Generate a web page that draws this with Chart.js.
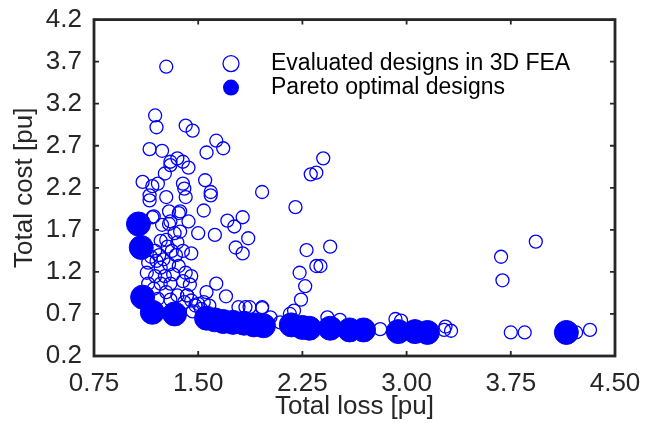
<!DOCTYPE html>
<html>
<head>
<meta charset="utf-8">
<script src="https://cdn.jsdelivr.net/npm/chart.js@4/dist/chart.umd.min.js"></script>
<style>
  html, body { margin: 0; padding: 0; background: #fff; }
  #wrap { width: 654px; height: 423px; position: relative; }
</style>
</head>
<body>
<div id="wrap"><canvas id="chart"></canvas></div>
<script>
// Axis ticks
const xTicks = [0.75, 1.50, 2.25, 3.00, 3.75, 4.50];
const yTicks = [0.2, 0.7, 1.2, 1.7, 2.2, 2.7, 3.2, 3.7, 4.2];

// Evaluated designs in 3D FEA (total loss, total cost)
const evalLoss = [
  1.27, 1.19, 1.20, 1.41, 1.46, 1.15, 1.24, 1.63, 1.68, 1.56, 1.30, 1.35, 1.39, 1.43, 1.30, 1.26,
  1.10, 1.17, 1.21, 1.39, 1.40, 1.55, 1.59, 1.59, 1.96, 2.40, 2.35, 2.31, 1.15, 1.27, 1.41, 1.15,
  2.20, 1.37, 1.29, 1.36, 1.54, 1.18, 1.17, 1.29, 1.30, 1.43, 1.24, 1.71, 1.76, 1.82, 1.37, 1.33,
  1.50, 1.62, 1.86, 1.77, 1.82, 2.28, 2.45, 2.35, 2.23, 2.27, 2.24, 2.19, 2.43, 2.52, 1.96, 2.02,
  2.09, 2.16, 1.63, 1.70, 1.56, 1.44, 1.42, 1.79, 1.84, 1.87, 1.96,
  1.23, 1.27, 1.35, 1.19, 1.31, 1.39, 1.45, 1.14, 1.20, 1.25, 1.23, 1.29, 1.36, 1.13, 1.19, 1.26,
  1.32, 1.41, 1.14, 1.23, 1.30, 1.39, 1.45, 1.27, 1.35, 1.42, 1.45, 1.48, 1.40, 1.30, 1.21, 1.52,
  1.46, 1.58, 1.54, 1.16, 1.22, 1.34, 1.18, 1.28, 1.50,
  2.81, 2.92, 2.96, 3.27, 3.32, 3.28, 3.75, 3.85, 4.22, 4.32, 3.68, 3.69, 3.93, 2.38
];
const evalCost = [
  3.64, 3.06, 2.92, 2.94, 2.88, 2.66, 2.64, 2.76, 2.67, 2.62, 2.51, 2.55, 2.51, 2.44, 2.47, 2.37,
  2.27, 2.22, 2.25, 2.25, 2.19, 2.29, 2.15, 2.11, 2.15, 2.55, 2.38, 2.36, 2.11, 2.09, 2.09, 2.05,
  1.97, 1.92, 1.92, 1.90, 1.93, 1.86, 1.85, 1.77, 1.80, 1.80, 1.76, 1.81, 1.74, 1.85, 1.68, 1.66,
  1.66, 1.64, 1.60, 1.49, 1.42, 1.46, 1.50, 1.27, 1.19, 1.03, 0.87, 0.74, 0.66, 0.63, 0.77, 0.66,
  0.60, 0.70, 1.06, 0.91, 0.96, 1.05, 0.92, 0.78, 0.78, 0.78, 0.78,
  1.57, 1.58, 1.55, 1.45, 1.45, 1.45, 1.42, 1.31, 1.33, 1.35, 1.25, 1.29, 1.27, 1.19, 1.15, 1.15,
  1.17, 1.19, 1.06, 1.06, 1.06, 1.09, 1.15, 0.96, 0.92, 0.92, 0.86, 0.80, 0.84, 0.87, 0.88, 0.76,
  0.73, 0.80, 0.84, 1.38, 1.40, 1.40, 1.00, 1.50, 0.82,
  0.52, 0.64, 0.62, 0.51, 0.50, 0.55, 0.48, 0.48, 0.48, 0.51, 1.38, 1.10, 1.56, 1.27
];

// Pareto optimal designs
const paretoLoss = [1.07, 1.09, 1.10, 1.17, 1.33, 1.56, 1.62, 1.68, 1.75, 1.83, 1.90, 1.97,
  2.17, 2.25, 2.30, 2.45, 2.59, 2.69, 2.94, 3.06, 3.15, 4.15];
const paretoCost = [1.77, 1.49, 0.90, 0.72, 0.70, 0.65, 0.63, 0.61, 0.60, 0.59, 0.57, 0.56,
  0.57, 0.54, 0.53, 0.53, 0.51, 0.51, 0.49, 0.49, 0.48, 0.48];

const evalLabel = 'Evaluated designs in 3D FEA';
const paretoLabel = 'Pareto optimal designs';

const BLUE = '#0000ff';
const INK = '#262626';
const FONT = '"Liberation Sans", Arial, Helvetica, sans-serif';

const toPoints = (xs, ys) => xs.map((x, i) => ({ x: x, y: ys[i] }));

// box frame with inward ticks + legend inside the axes
const framePlugin = {
  id: 'frame',
  afterDraw(chart) {
    const { ctx, chartArea: a, scales } = chart;
    ctx.save();
    ctx.strokeStyle = INK;
    ctx.lineWidth = 1.8;
    xTicks.forEach((v) => {
      const px = scales.x.getPixelForValue(v);
      ctx.beginPath();
      ctx.moveTo(px, a.bottom); ctx.lineTo(px, a.bottom - 5);
      ctx.moveTo(px, a.top); ctx.lineTo(px, a.top + 5);
      ctx.stroke();
    });
    yTicks.forEach((v) => {
      const py = scales.y.getPixelForValue(v);
      ctx.beginPath();
      ctx.moveTo(a.left, py); ctx.lineTo(a.left + 5, py);
      ctx.moveTo(a.right, py); ctx.lineTo(a.right - 5, py);
      ctx.stroke();
    });
    ctx.lineWidth = 2.8;
    ctx.strokeRect(a.left, a.top, a.right - a.left, a.bottom - a.top);

    // legend
    const lx = a.left + 137, tx = a.left + 177;
    const rows = [
      { y: a.top + 44, label: evalLabel, filled: false },
      { y: a.top + 68, label: paretoLabel, filled: true }
    ];
    ctx.font = '23px ' + FONT;
    ctx.textBaseline = 'middle';
    rows.forEach((r) => {
      ctx.beginPath();
      ctx.arc(lx, r.y, 8, 0, Math.PI * 2);
      if (r.filled) { ctx.fillStyle = BLUE; ctx.fill(); }
      else { ctx.strokeStyle = BLUE; ctx.lineWidth = 1.3; ctx.stroke(); }
      ctx.fillStyle = '#000';
      ctx.fillText(r.label, tx, r.y);
    });
    ctx.restore();
  }
};

new Chart(document.getElementById('chart'), {
  type: 'scatter',
  data: {
    datasets: [
      {
        label: paretoLabel,
        data: toPoints(paretoLoss, paretoCost),
        backgroundColor: BLUE,
        borderColor: BLUE,
        pointRadius: 12,
        pointHoverRadius: 12,
        order: 0
      },
      {
        label: evalLabel,
        data: toPoints(evalLoss, evalCost),
        backgroundColor: 'rgba(0,0,0,0)',
        borderColor: BLUE,
        borderWidth: 1.3,
        pointRadius: 6.5,
        pointHoverRadius: 6.5,
        order: 1
      }
    ]
  },
  options: {
    responsive: true,
    maintainAspectRatio: false,
    animation: false,
    layout: { padding: { top: 16, right: 39, left: 0, bottom: 0 } },
    plugins: { legend: { display: false }, tooltip: { enabled: false } },
    scales: {
      x: {
        type: 'linear',
        min: 0.75,
        max: 4.5,
        afterBuildTicks: (s) => { s.ticks = xTicks.map((v) => ({ value: v })); },
        afterFit: (s) => { s.height = 67; },
        grid: { display: false },
        border: { display: false },
        ticks: {
          color: INK,
          font: { family: FONT, size: 26 },
          padding: 4,
          maxRotation: 0,
          callback: (v) => v.toFixed(2)
        },
        title: { display: true, text: 'Total loss [pu]', color: INK, font: { family: FONT, size: 26 }, padding: { top: 0, bottom: 1 } }
      },
      y: {
        type: 'linear',
        min: 0.2,
        max: 4.2,
        afterBuildTicks: (s) => { s.ticks = yTicks.map((v) => ({ value: v })); },
        afterFit: (s) => { s.width = 94; },
        grid: { display: false },
        border: { display: false },
        ticks: {
          color: INK,
          font: { family: FONT, size: 26 },
          padding: 4,
          callback: (v) => v.toFixed(1)
        },
        title: { display: true, text: 'Total cost [pu]', color: INK, font: { family: FONT, size: 26 }, padding: { top: 9, bottom: 0 } }
      }
    }
  },
  plugins: [framePlugin]
});
</script>
</body>
</html>
